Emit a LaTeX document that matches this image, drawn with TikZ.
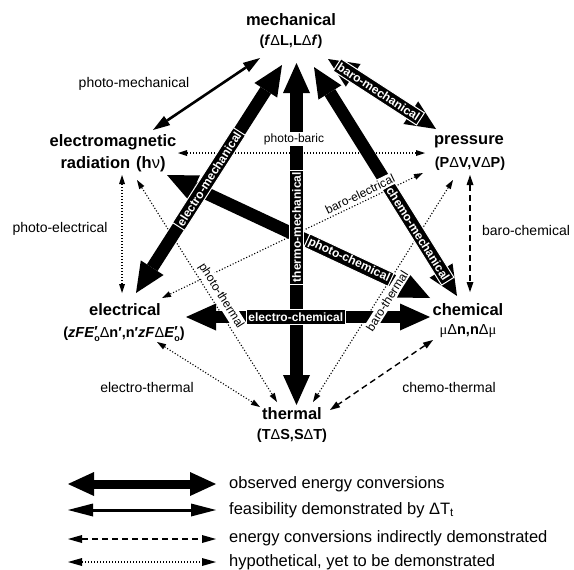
\documentclass[tikz,border=0pt]{standalone}
\usepackage{fontspec}
\setmainfont{Liberation Sans}
\newfontfamily\serifgr{Liberation Serif}
\usetikzlibrary{arrows.meta}
\newcommand\myD{{\mdseries Δ}}
\newcommand\primesub{\rlap{\raisebox{0.1ex}{′}}\raisebox{-0.45ex}{\fontsize{9}{9}\selectfont o}}
\tikzset{
  big/.style={font=\fontsize{16.5}{18}\selectfont\bfseries, inner sep=0pt},
  sub/.style={font=\fontsize{14.5}{16}\selectfont\bfseries, inner sep=0pt},
  lab/.style={font=\fontsize{14}{16}\selectfont, inner sep=0pt},
  slab/.style={font=\fontsize{12}{14}\selectfont, fill=white, inner sep=1.5pt},
  leg/.style={font=\fontsize{16.5}{18}\selectfont, inner sep=0pt, anchor=west},
  inlab/.style={sloped, fill=black, text=white, draw=white, line width=1pt,
    font=\fontsize{12}{14}\selectfont\bfseries, inner xsep=2pt, inner ysep=0pt,
    minimum height=14.5pt},
  obs/.style={line width=12.5pt,
    {Triangle[length=30pt,width=27pt,line width=0pt]}-{Triangle[length=30pt,width=27pt,line width=0pt]}},
  feas/.style={line width=2.6pt,
    {Triangle[length=17pt,width=11pt,line width=0pt]}-{Triangle[length=17pt,width=11pt,line width=0pt]}},
  hyp/.style={line width=1.1pt, dash pattern=on 1.1pt off 1.9pt,
    {Triangle[length=9pt,width=6pt,line width=0pt]}-{Triangle[length=9pt,width=6pt,line width=0pt]}},
  ind/.style={line width=1.4pt, dash pattern=on 6pt off 4pt,
    {Triangle[length=10pt,width=7pt,line width=0pt]}-{Triangle[length=10pt,width=7pt,line width=0pt]}},
}
\begin{document}
\begin{tikzpicture}[x=1pt,y=-1pt]
\useasboundingbox (0,0) rectangle (574,570);

% ---- main nodes
\node[big] (mech) at (291,20) {mechanical};
\node[sub] (mechq) at (291,42) {(\textit{f}\myD L,L\myD\textit{f})};
\node[big] (em) at (113,142) {electromagnetic};
\node[big] (emq) at (113,164) {radiation\hspace{6pt}(h{\mdseries ν})};
\node[big] (press) at (469,142) {pressure};
\node[sub] (pressq) at (470,164) {(P\myD V,V\myD P)};
\node[big] (elec) at (125,310) {electrical};
\node[sub] (elecq) at (124,334) {(\textit{zFE}\primesub\myD n′,n′\textit{zF}\myD\textit{E}\primesub)};
\node[big] (chem) at (468,310) {chemical};
\node[sub] (chemq) at (468,331) {{\serifgr\mdseries μ}\myD n,n\myD{\serifgr\mdseries μ}};
\node[big] (therm) at (292,414) {thermal};
\node[sub] (thermq) at (292,436) {(T\myD S,S\myD T)};

% ---- connector end points
\coordinate (pbA) at (178,153);   \coordinate (pbB) at (425,153);
\coordinate (peA) at (122,175);   \coordinate (peB) at (122,293);
\coordinate (ptA) at (137,180);   \coordinate (ptB) at (277,402);
\coordinate (beA) at (423,173);   \coordinate (beB) at (162,298);
\coordinate (btA) at (453,180);   \coordinate (btB) at (313,402);
\coordinate (etA) at (157,342);   \coordinate (etB) at (260,407);
\coordinate (ctA) at (433,340);   \coordinate (ctB) at (330,410);
\coordinate (bcA) at (470,175);   \coordinate (bcB) at (470,292);
\coordinate (pmA) at (153,130);   \coordinate (pmB) at (260,58);
\coordinate (pcA) at (167,175);   \coordinate (pcB) at (430,298);
\coordinate (tmA) at (296.5,405); \coordinate (tmB) at (296.5,63);
\coordinate (xmA) at (136,293);   \coordinate (xmB) at (282,65);
\coordinate (ecA) at (186,317);   \coordinate (ecB) at (430,317);
\coordinate (cmA) at (314,67);    \coordinate (cmB) at (457,296);
\coordinate (bmA) at (328,59);    \coordinate (bmB) at (436,129);

% ---- hypothetical / indirect
\draw[hyp] (pbA) -- (pbB);
\draw[hyp] (peA) -- (peB);
\draw[hyp] (ptA) -- (ptB);
\draw[hyp] (beA) -- (beB);
\draw[hyp] (btA) -- (btB);
\draw[hyp] (etA) -- (etB);
\draw[ind] (ctA) -- (ctB);
\draw[ind] (bcA) -- (bcB);

% ---- feasibility
\draw[feas] (pmA) -- (pmB);

% ---- observed
\draw[obs] (pcA) -- node[inlab, pos=0.692] (pclab) {photo-chemical} (pcB);
\draw[obs] (tmA) -- node[inlab, pos=0.52] (tmlab) {thermo-mechanical} (tmB);
\draw[obs] (xmA) -- node[inlab, pos=0.5] (xmlab) {electro-mechanical} (xmB);
\draw[obs] (ecA) -- node[inlab, pos=0.45] (eclab) {electro-chemical} (ecB);
\draw[obs] (cmA) -- node[inlab, pos=0.728] (cmlab) {chemo-mechanical} (cmB);
\draw[obs] (bmA) -- node[inlab, pos=0.47] (bmlab) {baro-mechanical} (bmB);

% ---- labels on white
\node[slab] (pblab) at (294,139) {photo-baric};
\node[slab, rotate=25.6] (belab) at (360,194) {baro-electrical};
\node[slab, rotate=-57.8] (ptlab) at (221,296) {photo-thermal};
\node[slab, rotate=57.8] (btlab) at (387,301) {baro-thermal};

% ---- plain labels
\node[lab] (pmlab) at (134,84) {photo-mechanical};
\node[lab] (pelab) at (60,229) {photo-electrical};
\node[lab] (etlab) at (147,387) {electro-thermal};
\node[lab] (ctlab) at (449,387) {chemo-thermal};
\node[lab] (bclab) at (526,230) {baro-chemical};

% ---- legend
\coordinate (l1a) at (68,484);  \coordinate (l1b) at (216,484);
\coordinate (l2a) at (68,510);  \coordinate (l2b) at (216,510);
\coordinate (l3a) at (68,539);  \coordinate (l3b) at (216,539);
\coordinate (l4a) at (68,562);  \coordinate (l4b) at (216,562);
\draw[line width=9pt,
  {Triangle[length=26pt,width=24pt,line width=0pt]}-{Triangle[length=26pt,width=24pt,line width=0pt]}] (l1a) -- (l1b);
\draw[line width=3pt,
  {Triangle[length=25pt,width=13pt,line width=0pt]}-{Triangle[length=25pt,width=13pt,line width=0pt]}] (l2a) -- (l2b);
\draw[line width=1.4pt, dash pattern=on 6pt off 4pt,
  {Triangle[length=14pt,width=8pt,line width=0pt]}-{Triangle[length=14pt,width=8pt,line width=0pt]}] (l3a) -- (l3b);
\draw[line width=1.1pt, dash pattern=on 1.1pt off 1.9pt,
  {Triangle[length=14pt,width=8pt,line width=0pt]}-{Triangle[length=14pt,width=8pt,line width=0pt]}] (l4a) -- (l4b);
\node[leg] (t1) at (229,484) {observed energy conversions};
\node[leg] (t2) at (229,510) {feasibility demonstrated by \myD T\textsubscript{t}};
\node[leg] (t3) at (229,538) {energy conversions indirectly demonstrated};
\node[leg] (t4) at (229,562) {hypothetical, yet to be demonstrated};
\end{tikzpicture}
\end{document}
